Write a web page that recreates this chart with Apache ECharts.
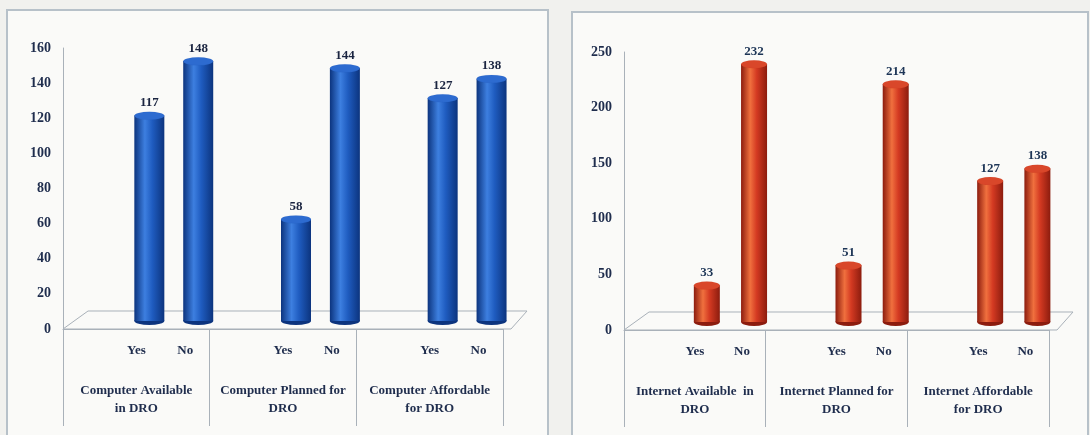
<!DOCTYPE html>
<html>
<head>
<meta charset="utf-8">
<script src="https://cdn.jsdelivr.net/npm/echarts@6/dist/echarts.min.js"></script>
<style>
html,body{margin:0;padding:0;background:#f1f1ee;}
#chart{width:1090px;height:435px;}
</style>
</head>
<body>
<div id="chart"></div>
<script>
// ---- data ----
const answers = ['Yes', 'No'];
const computerGroups = ['Computer Available\nin DRO', 'Computer Planned for\nDRO', 'Computer Affordable\nfor DRO'];
const computerYes = [117, 58, 127];
const computerNo = [148, 144, 138];
const internetGroups = ['Internet Available  in\nDRO', 'Internet Planned for\nDRO', 'Internet Affordable\nfor DRO'];
const internetYes = [33, 51, 127];
const internetNo = [232, 214, 138];
const computerTicks = { min: 0, max: 160, interval: 20 };
const internetTicks = { min: 0, max: 250, interval: 50 };

// ---- helpers: each group = [spacer, Yes, No] ----
function slotCats(groups) { const s = []; groups.forEach(() => { s.push(''); answers.forEach(a => s.push(a)); }); return s; }
function slotData(yes, no) { const d = []; yes.forEach((v, i) => { d.push('-', v, no[i]); }); return d; }

// ---- layout ----
const L = { left: 63, top: 48, width: 440, height: 281, dx: 13, dy: 8, bw: 30 };
const R = { left: 624, top: 52, width: 425, height: 278, dx: 12, dy: 8, bw: 26 };
const serif = '"Liberation Serif", "DejaVu Serif", serif';
const txt = '#1f2d4d';
const lineCol = '#a9b1b9';

const chart = echarts.init(document.getElementById('chart'));

function axesFor(P, groups, ticks, gi) {
  const xa = [
    { gridIndex: gi, type: 'category', data: groups, position: 'bottom',
      axisLine: { show: true, lineStyle: { color: lineCol, width: 1 } },
      axisTick: { show: true, length: 97, alignWithLabel: false, interval: 0, lineStyle: { color: lineCol, width: 1 } },
      axisLabel: { interval: 0, margin: 53, fontFamily: serif, fontWeight: 'bold', fontSize: 13, lineHeight: 18, color: txt } },
    { gridIndex: gi, type: 'category', data: slotCats(groups), position: 'bottom',
      axisLine: { show: false }, axisTick: { show: false },
      axisLabel: { interval: 0, margin: 15, fontFamily: serif, fontWeight: 'bold', fontSize: 13, color: txt } },
    { gridIndex: gi + 1, type: 'category', data: slotCats(groups), show: false }
  ];
  const ya = [
    { gridIndex: gi, type: 'value', min: ticks.min, max: ticks.max, interval: ticks.interval,
      axisLine: { show: true, lineStyle: { color: lineCol, width: 1 } }, axisTick: { show: false },
      splitLine: { show: false },
      axisLabel: { margin: 12, fontFamily: serif, fontWeight: 'bold', fontSize: 14, color: txt } },
    { gridIndex: gi + 1, type: 'value', min: ticks.min, max: ticks.max, interval: ticks.interval, show: false, splitLine: { show: false } }
  ];
  return { xa, ya };
}

function cylinder(data, xi, yi, P, c) {
  const body = {
    type: 'bar', xAxisIndex: xi, yAxisIndex: yi, data: data, barWidth: P.bw, z: 3,
    itemStyle: { color: new echarts.graphic.LinearGradient(0, 0, 1, 0, [
      { offset: 0, color: c.edge }, { offset: 0.35, color: c.light }, { offset: 0.6, color: c.mid }, { offset: 1, color: c.edge }]) },
    label: { show: true, position: 'top', distance: 6, fontFamily: serif, fontWeight: 'bold', fontSize: 13, color: c.label }
  };
  const top = {
    type: 'pictorialBar', xAxisIndex: xi, yAxisIndex: yi, data: data, symbol: 'circle', symbolSize: [P.bw, 8],
    symbolPosition: 'end', symbolOffset: [0, -4], z: 4,
    itemStyle: { color: c.top, borderColor: c.edge, borderWidth: 1 }
  };
  const bottom = {
    type: 'pictorialBar', xAxisIndex: xi, yAxisIndex: yi, data: data, symbol: 'circle', symbolSize: [P.bw, 8],
    symbolPosition: 'start', symbolOffset: [0, 4], z: 2,
    itemStyle: { color: c.edge }
  };
  return [bottom, body, top];
}

const la = axesFor(L, computerGroups, computerTicks, 0);
const ra = axesFor(R, internetGroups, internetTicks, 2);

function floor(P) {
  const x0 = P.left, x1 = P.left + P.width, y0 = P.top + P.height;
  return { type: 'polygon', z: 1, silent: true,
    shape: { points: [[x0, y0], [x1 + 8, y0], [x1 + 8 + 16, y0 - 18], [x0 + 25, y0 - 18]] },
    style: { fill: 'rgba(250,250,248,0.6)', stroke: lineCol, lineWidth: 1 } };
}

const blue = { edge: '#0c347e', light: '#3d7fe0', mid: '#1f5cc0', top: '#2d6bd0', label: '#1a2440' };
const red = { edge: '#8c1c0e', light: '#f0703e', mid: '#d43a22', top: '#d9472a', label: '#1d3556' };

chart.setOption({
  backgroundColor: '#f1f1ee',
  animation: false,
  graphic: [
    { type: 'rect', z: -10, silent: true, shape: { x: 7, y: 10, width: 541, height: 440 }, style: { fill: '#fafaf8', stroke: '#b7c1c9', lineWidth: 2 } },
    { type: 'rect', z: -10, silent: true, shape: { x: 572, y: 12, width: 516, height: 440 }, style: { fill: '#fafaf8', stroke: '#b7c1c9', lineWidth: 2 } },
    floor(L), floor(R)
  ],
  grid: [
    { left: L.left, top: L.top, width: L.width, height: L.height },
    { left: L.left + L.dx, top: L.top - L.dy, width: L.width, height: L.height },
    { left: R.left, top: R.top, width: R.width, height: R.height },
    { left: R.left + R.dx, top: R.top - R.dy, width: R.width, height: R.height }
  ],
  xAxis: la.xa.concat(ra.xa),
  yAxis: la.ya.concat(ra.ya),
  series: [].concat(
    cylinder(slotData(computerYes, computerNo), 2, 1, L, blue),
    cylinder(slotData(internetYes, internetNo), 5, 3, R, red)
  )
});
</script>
</body>
</html>
